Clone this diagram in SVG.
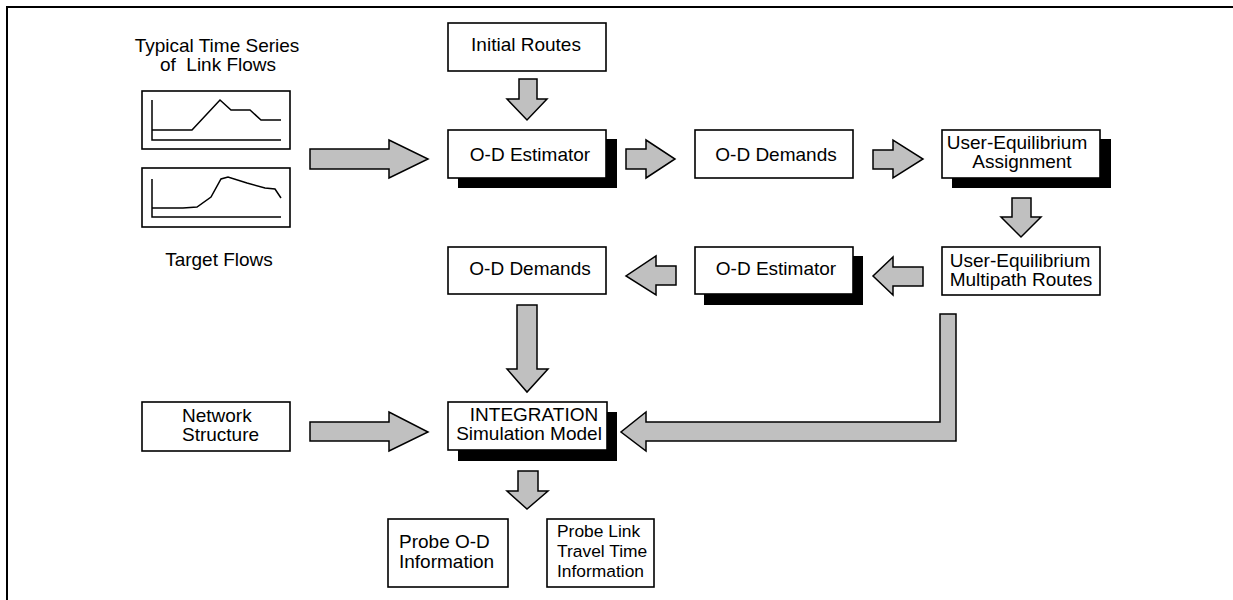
<svg xmlns="http://www.w3.org/2000/svg" width="1233" height="600" viewBox="0 0 1233 600">
<style>
  .frame { fill: none; stroke: #000; stroke-width: 2; }
  .box { fill: #fff; stroke: #000; stroke-width: 1.6; }
  .shadow { fill: #000; stroke: none; }
  .arrow { fill: #c0c0c0; stroke: #000; stroke-width: 1.5; stroke-linejoin: miter; }
  .plot { fill: none; stroke: #000; stroke-width: 1.5; }
  text { font-family: "Liberation Sans", Arial, Helvetica, sans-serif; font-size: 19px; fill: #000; }
  .c { text-anchor: middle; }
  .s { text-anchor: start; }
  .sm { font-size: 17.4px; }
</style>
<rect width="1233" height="600" fill="#fff"/>
<path class="frame" d="M7,601 V7 H1234"/>

<g id="label-typical">
  <text class="c" x="217" y="52">Typical Time Series</text>
  <text class="c" x="218" y="71" xml:space="preserve" style="white-space:pre">of  Link Flows</text>
</g>
<g id="chart-1">
  <rect class="box" x="142" y="91" width="148" height="58" stroke-width="2"/>
  <polyline class="plot" points="152,100 152,140 281,140"/>
  <polyline class="plot" points="152,130 192,130 220,100 231,110 250,110 261,120 281,120"/>
</g>
<g id="chart-2">
  <rect class="box" x="142" y="168" width="148" height="59" stroke-width="2"/>
  <polyline class="plot" points="152,179 152,217 281,217"/>
  <polyline class="plot" points="152,208 183,208 197,207 211,197 221,179 228,177 247,183 265,188 275,189 281,198"/>
</g>
<g id="label-target">
  <text class="c" x="219" y="266">Target Flows</text>
</g>

<g id="connectors">
  <!-- charts -> O-D Estimator -->
  <polygon class="arrow" points="310,149 389,149 389,140 428,159 389,178 389,169 310,169"/>
  <!-- Initial Routes -> O-D Estimator -->
  <polygon class="arrow" points="519,79 537,79 537,99 547,99 527,120 507,99 519,99"/>
  <!-- O-D Estimator -> O-D Demands -->
  <polygon class="arrow" points="626,149 646,149 646,140 675,159 646,178 646,169 626,169"/>
  <!-- O-D Demands -> UE Assignment -->
  <polygon class="arrow" points="873,150 893,150 893,140 923,159 893,178 893,169 873,169"/>
  <!-- UE Assignment -> UE Multipath -->
  <polygon class="arrow" points="1012,198 1031,198 1031,217 1041,217 1021,237 1001,217 1012,217"/>
  <!-- UE Multipath -> O-D Estimator 2 -->
  <polygon class="arrow" points="923,267 893,267 893,257 873,276 893,295 893,286 923,286"/>
  <!-- O-D Estimator 2 -> O-D Demands 2 -->
  <polygon class="arrow" points="676,266 656,266 656,256 626,276 656,295 656,285 676,285"/>
  <!-- O-D Demands 2 -> INTEGRATION -->
  <polygon class="arrow" points="517,305 537,305 537,369 548,369 527,392 507,369 517,369"/>
  <!-- Network Structure -> INTEGRATION -->
  <polygon class="arrow" points="310,422 389,422 389,412 428,432 389,451 389,441 310,441"/>
  <!-- INTEGRATION -> probes -->
  <polygon class="arrow" points="518,471 538,471 538,491 548,491 527,509 507,491 518,491"/>
  <!-- UE Multipath -> INTEGRATION (L-shaped) -->
  <polygon class="arrow" points="940,314 956,314 956,441 646,441 646,451 621,432 646,412 646,422 940,422"/>
</g>

<g id="node-initial-routes">
  <rect class="box" x="448" y="23" width="158" height="48"/>
  <text class="c" x="526" y="51">Initial Routes</text>
</g>
<g id="node-od-estimator-1">
  <rect class="shadow" x="458" y="139" width="159" height="49"/>
  <rect class="box" x="448" y="130" width="158" height="48"/>
  <text class="c" x="530" y="161">O-D Estimator</text>
</g>
<g id="node-od-demands-1">
  <rect class="box" x="695" y="130" width="158" height="48"/>
  <text class="c" x="776" y="161">O-D Demands</text>
</g>
<g id="node-ue-assignment">
  <rect class="shadow" x="952" y="139" width="159" height="49"/>
  <rect class="box" x="942" y="130" width="158" height="48"/>
  <text class="c" x="1017" y="149">User-Equilibrium</text>
  <text class="c" x="1022" y="168">Assignment</text>
</g>
<g id="node-ue-multipath">
  <rect class="box" x="942" y="247" width="158" height="48"/>
  <text class="c" x="1020" y="267">User-Equilibrium</text>
  <text class="c" x="1021" y="286">Multipath Routes</text>
</g>
<g id="node-od-estimator-2">
  <rect class="shadow" x="704" y="256" width="159" height="49"/>
  <rect class="box" x="695" y="247" width="158" height="47"/>
  <text class="c" x="776" y="275">O-D Estimator</text>
</g>
<g id="node-od-demands-2">
  <rect class="box" x="448" y="247" width="158" height="47"/>
  <text class="c" x="530" y="275">O-D Demands</text>
</g>
<g id="node-network-structure">
  <rect class="box" x="142" y="402" width="148" height="49"/>
  <text class="s" x="182" y="422">Network</text>
  <text class="s" x="182" y="441">Structure</text>
</g>
<g id="node-integration">
  <rect class="shadow" x="458" y="412" width="159" height="49"/>
  <rect class="box" x="448" y="402" width="159" height="48"/>
  <text class="c" x="534" y="421">INTEGRATION</text>
  <text class="c" x="529" y="440">Simulation Model</text>
</g>
<g id="node-probe-od">
  <rect class="box" x="388" y="519" width="120" height="68"/>
  <text class="s" x="399" y="548">Probe O-D</text>
  <text class="s" x="399" y="568">Information</text>
</g>
<g id="node-probe-link">
  <rect class="box" x="547" y="519" width="107" height="68"/>
  <text class="s sm" x="557" y="537">Probe Link</text>
  <text class="s sm" x="557" y="557">Travel Time</text>
  <text class="s sm" x="557" y="577">Information</text>
</g>
</svg>
